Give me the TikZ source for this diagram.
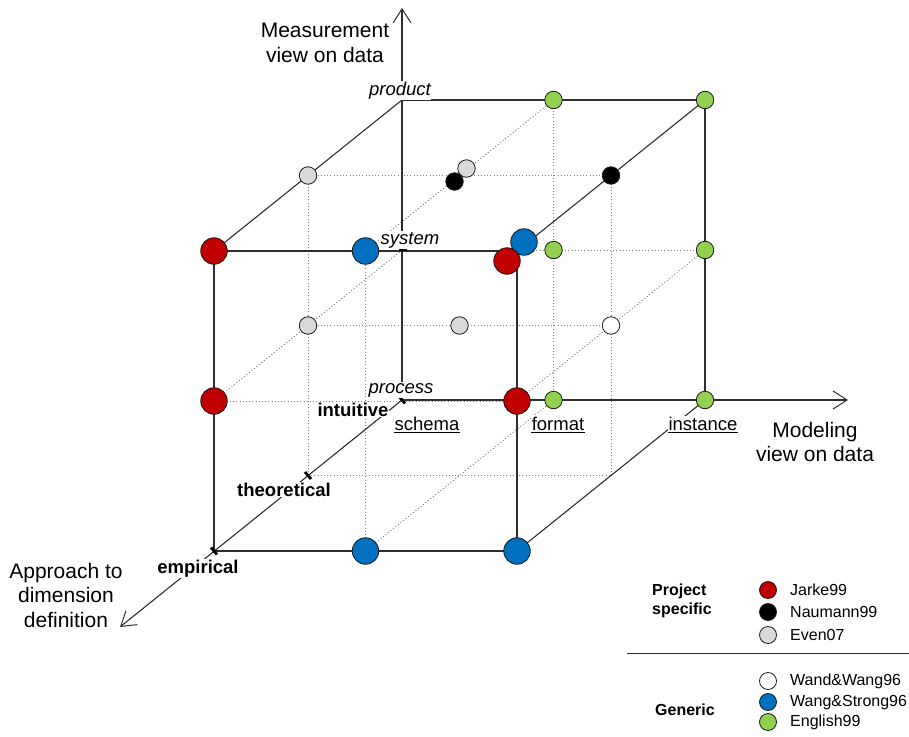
\documentclass[tikz,border=0pt]{standalone}
\usepackage{fontspec}
\setmainfont{Liberation Sans}
\usetikzlibrary{arrows.meta}

\definecolor{ptred}{HTML}{C00000}
\definecolor{ptblue}{HTML}{0070C0}
\definecolor{ptgreen}{HTML}{92D050}
\definecolor{ptgray}{HTML}{D9D9D9}

\newcommand\AxisFont{\fontsize{21}{24.5}\selectfont}
\newcommand\TickFont{\fontsize{18.5}{21}\selectfont}
\newcommand\LegFont{\fontsize{16}{19}\selectfont}

\begin{document}
\begin{tikzpicture}[x=1pt,y=-1pt,
  edge/.style={black!82, line width=1.1pt},
  gridline/.style={black!50, line width=0.9pt, dash pattern=on 1pt off 2.2pt},
  axis/.style={black!82, line width=1.1pt,
    -{Straight Barb[length=14pt,width=18pt,line width=1pt]}},
  tickmark/.style={black, line width=2.8pt},
  ulrule/.style={black, line width=0.9pt},
  dot/.style={circle, draw=black!90, line width=0.8pt, inner sep=0pt},
  bigdot/.style={dot, minimum size=26.5pt},
  smalldot/.style={dot, minimum size=17.5pt},
  legdot/.style={dot, minimum size=17pt},
  ticklab/.style={fill=white, inner xsep=0.5pt, inner ysep=1pt, anchor=base, font=\TickFont},
  axislab/.style={align=center, font=\AxisFont},
  leglab/.style={anchor=base west, inner sep=0pt, font=\LegFont},
  legtitle/.style={align=left, font=\LegFont\bfseries, inner sep=0pt}
]
\useasboundingbox (0,0) rectangle (909,736);

% grid points: m = modeling view, v = measurement view, d = approach
\foreach \m in {0,1,2}{\foreach \v in {0,1,2}{\foreach \d in {0,1,2}{
  \coordinate (g\m\v\d) at ({402+151.5*\m-94*\d},{400-150*\v+75.5*\d});
}}}
\coordinate (vtip) at (402,8);
\coordinate (htip) at (848,400);
\coordinate (dtip) at (120,627);

% inner dotted grid
\draw[gridline] (g021) -- (g221);
\draw[gridline] (g011) -- (g211);
\draw[gridline] (g001) -- (g201);
\draw[gridline] (g010) -- (g210);
\draw[gridline] (g012) -- (g212);
\draw[gridline] (g001) -- (g021);
\draw[gridline] (g102) -- (g122);
\draw[gridline] (g100) -- (g120);
\draw[gridline] (g201) -- (g221);
\draw[gridline] (g120) -- (g122);
\draw[gridline] (g010) -- (g012);
\draw[gridline] (g100) -- (g102);
\draw[gridline] (g210) -- (g212);

% cube edges
\draw[edge] (g020) -- (g220) -- (g200);
\draw[edge] (g002) -- (g022) -- (g222) -- (g202) -- cycle;
\draw[edge] (g020) -- (g022);
\draw[edge] (g220) -- (g222);
\draw[edge] (g200) -- (g202);

% axes
\draw[axis] (g000) -- (vtip);
\draw[axis] (g000) -- (htip);
\draw[axis] (g000) -- (dtip);

% tick marks
\draw[tickmark] ([xshift=-3.5pt]g010) -- ([xshift=4.5pt]g010);
\foreach \t in {g000,g001,g002}
  \draw[tickmark] ([shift={(-3pt,3.5pt)}]\t) -- ([shift={(3pt,-3.5pt)}]\t);

% axis labels
\node[axislab] (lmeas) at (325,43) {Measurement\\view on data};
\node[axislab] (lmodel) at (815,442) {Modeling\\view on data};
\node[axislab] (lappr) at (66,595) {Approach to\\dimension\\definition};

% tick labels
\node[ticklab, font=\TickFont\itshape] (lproduct) at (400,95) {product};
\node[ticklab, font=\TickFont\itshape] (lsystem) at (410,244) {system};
\node[ticklab, font=\TickFont\itshape] (lprocess) at (401,393) {process};
\node[ticklab, font=\TickFont\bfseries] (lintuitive) at (353,416) {intuitive};
\node[ticklab, font=\TickFont\bfseries] (ltheoretical) at (284,496) {theoretical};
\node[ticklab, font=\TickFont\bfseries] (lempirical) at (198,573) {empirical};
\node[ticklab] (lschema) at (427,430) {schema};
\node[ticklab] (lformat) at (558,430) {format};
\node[ticklab] (linstance) at (703,430) {instance};
\foreach \n in {lschema,lformat,linstance}
  \draw[ulrule] ([yshift=-2.6pt]\n.base west) -- ([yshift=-2.6pt]\n.base east);

% classified approaches
\node[smalldot, fill=ptgreen] (e1) at (g120) {};
\node[smalldot, fill=ptgreen] (e2) at (g220) {};
\node[smalldot, fill=ptgreen] (e3) at (g110) {};
\node[smalldot, fill=ptgreen] (e4) at (g210) {};
\node[smalldot, fill=ptgreen] (e5) at (g100) {};
\node[smalldot, fill=ptgreen] (e6) at (g200) {};

\node[smalldot, fill=ptgray] (v1) at (g021) {};
\node[smalldot, fill=ptgray] (v2) at (g011) {};
\node[smalldot, fill=ptgray] (v3) at (g111) {};
\node[smalldot, fill=ptgray] (v4) at ([shift={(7pt,7pt)}]g121) {};

\node[smalldot, fill=black] (n1) at (g221) {};
\node[smalldot, fill=black] (n2) at ([shift={(-5pt,-6pt)}]g121) {};

\node[smalldot, fill=white] (w1) at (g211) {};

\node[bigdot, fill=ptblue] (s1) at (g122) {};
\node[bigdot, fill=ptblue] (s2) at (g102) {};
\node[bigdot, fill=ptblue] (s3) at (g202) {};
\node[bigdot, fill=ptblue] (s4) at ([shift={(7pt,9pt)}]g222) {};

\node[bigdot, fill=ptred] (j1) at (g022) {};
\node[bigdot, fill=ptred] (j2) at (g012) {};
\node[bigdot, fill=ptred] (j3) at (g212) {};
\node[bigdot, fill=ptred] (j4) at ([shift={(-10pt,-10pt)}]g222) {};

% legend
\node[legtitle, anchor=west] (tproj) at (652,601) {Project\\specific};
\node[legdot, fill=ptred] (kj) at (768,590) {};
\node[legdot, fill=black] (kn) at (768,612) {};
\node[legdot, fill=ptgray] (ke) at (768,635) {};
\node[leglab] (tj) at (790,595) {Jarke99};
\node[leglab] (tn) at (790,617) {Naumann99};
\node[leglab] (te) at (790,640) {Even07};

\coordinate (sepa) at (627,653);
\coordinate (sepb) at (909,653);
\draw[black!85, line width=1pt] (sepa) -- (sepb);

\node[legtitle, anchor=base west] (tgen) at (655,715) {Generic};
\node[legdot, fill=white] (kw) at (768,681) {};
\node[legdot, fill=ptblue] (ks) at (768,702) {};
\node[legdot, fill=ptgreen] (kg) at (768,722) {};
\node[leglab] (tw) at (790,685) {Wand\&Wang96};
\node[leglab] (ts) at (790,706) {Wang\&Strong96};
\node[leglab] (tg) at (790,726) {English99};
\end{tikzpicture}
\end{document}
